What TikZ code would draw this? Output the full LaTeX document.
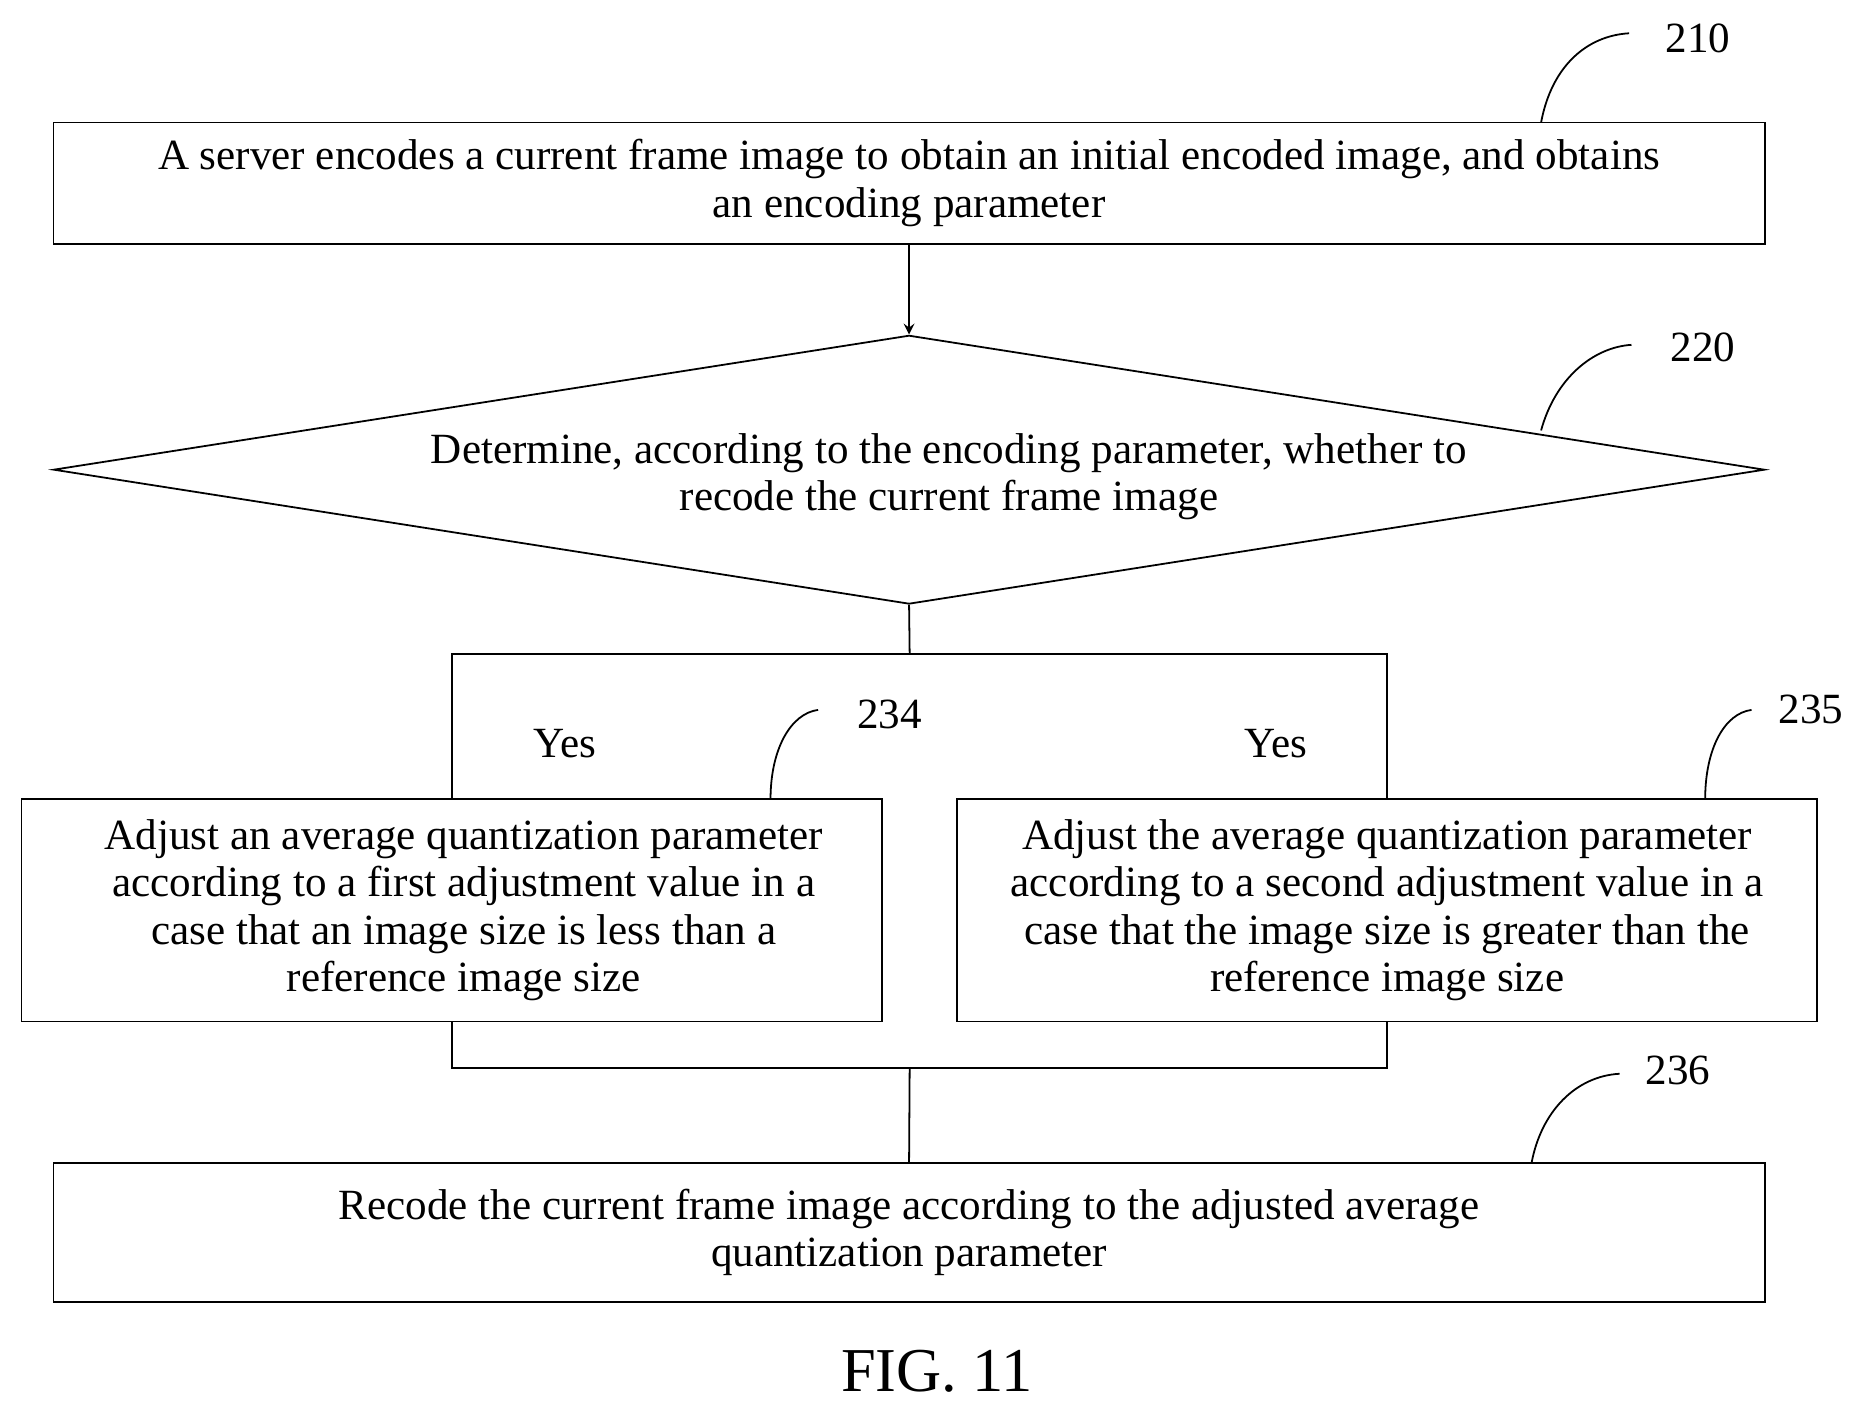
\documentclass[tikz,border=0pt]{standalone}
\usepackage{fontspec}
\setmainfont{Liberation Serif}
\usetikzlibrary{shapes.geometric, arrows, calc, positioning}
\tikzstyle{process} = [rectangle, draw=black, line width=0.6pt, text centered, inner sep=0pt]
\tikzstyle{decision} = [diamond, draw=black, line width=0.6pt, inner sep=0pt]
\tikzstyle{arrow} = [line width=0.6pt,->,>=stealth]
\tikzstyle{line} = [line width=0.6pt]
\tikzstyle{tag} = [font=\fontsize{14.5}{16}\selectfont]
\tikzstyle{txt} = [align=center, font=\fontsize{14.5}{16}\selectfont]

\begin{document}
\begin{tikzpicture}[x=0.4pt, y=-0.4pt]
\useasboundingbox (0,0) rectangle (1560,1185);

% Nodes
\node (s210) [process, minimum width=1439*0.4pt, minimum height=102*0.4pt] at (764.5,154) {};
\node [txt] at (s210) {A server encodes a current frame image to obtain an initial encoded image, and obtains\\an encoding parameter};
\node (s220) [decision, minimum width=1439*0.4pt, minimum height=226*0.4pt] at (764.5,395) {};
\node [txt] at (798,401) {Determine, according to the encoding parameter, whether to\\recode the current frame image};
\node (s234) [process, minimum width=724*0.4pt, minimum height=187*0.4pt] at (380,765.5) {};
\node [txt] at (390,765.5) {Adjust an average quantization parameter\\according to a first adjustment value in a\\case that an image size is less than a\\reference image size};
\node (s235) [process, minimum width=723*0.4pt, minimum height=187*0.4pt] at (1166.5,765.5) {};
\node [txt] at (s235) {Adjust the average quantization parameter\\according to a second adjustment value in a\\case that the image size is greater than the\\reference image size};
\node (s236) [process, minimum width=1439*0.4pt, minimum height=117*0.4pt] at (764.5,1036.5) {};
\node [txt] at (s236) {Recode the current frame image according to the adjusted average\\quantization parameter};

\node (yes1) [tag] at (475,625) {Yes};
\node (yes2) [tag] at (1073,625) {Yes};
\node (fig) [font=\fontsize{21}{24}\selectfont] at (788,1153) {FIG. 11};

% Reference numerals
\node (n210) [tag] at (1428,32) {210};
\node (n220) [tag] at (1432,292) {220};
\node (n234) [tag] at (748,601) {234};
\node (n235) [tag] at (1523,597) {235};
\node (n236) [tag] at (1411,900) {236};
\draw [line] (1296,103) .. controls (1305,55) and (1335,30) .. (1370,28);
\draw [line] (1296,362) .. controls (1308,318) and (1340,292) .. (1372,290);
\draw [line] (648,672) .. controls (648,630) and (665,600) .. (688,597);
\draw [line] (1434,672) .. controls (1434,630) and (1450,600) .. (1473,597);
\draw [line] (1288,978) .. controls (1296,935) and (1325,905) .. (1362,903);

% Arrows
\coordinate (split) at (765,550);
\coordinate (join) at (765,898);
\draw [arrow] (s210.south) -- (s220.north);
\draw [line] (s220.south) -- (split);
\draw [line] (split) -| (s234.north);
\draw [line] (split) -| (s235.north);
\draw [line] (s234.south) |- (join);
\draw [line] (s235.south) |- (join);
\draw [line] (join) -- (s236.north);

\end{tikzpicture}
\end{document}
